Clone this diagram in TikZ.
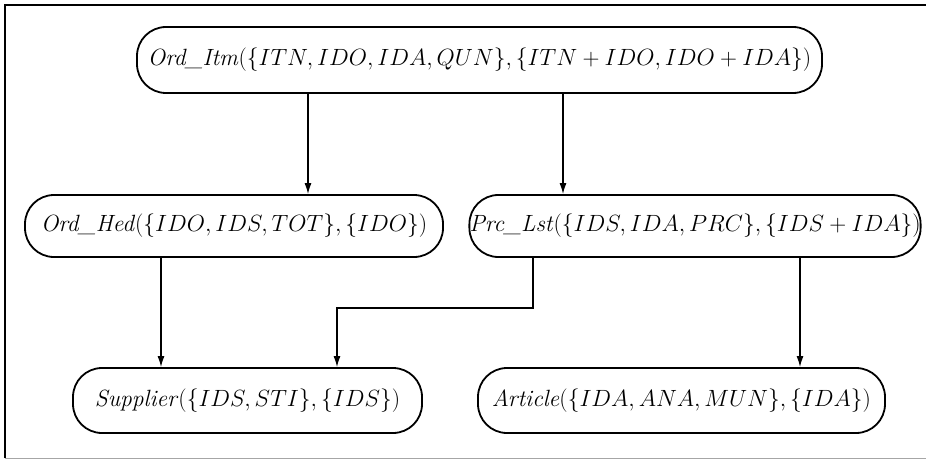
\RequirePackage{fix-cm}
\documentclass[tikz,border=0pt]{standalone}
\usepackage{fontspec}
\usetikzlibrary{arrows.meta}
\tikzset{
  rel/.style={draw=black, line width=1.8pt, rounded corners=29pt, inner sep=0pt,
    font=\fontsize{23.5}{28}\selectfont},
  arr/.style={line width=1.4pt, -{Latex[length=11pt,width=7pt]}},
  frame/.style={line width=1.6pt}
}
\begin{document}
\begin{tikzpicture}[x=1pt,y=-1pt]
\useasboundingbox (0,0) rectangle (926,460);
% frame
\draw[frame] (5,458) -- (5,5) -- (926,5);
\draw[line width=1pt, black!35] (5,458) -- (926,458);
% nodes
\node[rel, minimum width=685pt, minimum height=66pt] (oi) at (479.5,60)
  {\textit{Ord\_Itm}$(\{ITN,IDO,IDA,QUN\},\{ITN+IDO,IDO+IDA\})$};
\node[rel, minimum width=418pt, minimum height=62pt] (oh) at (234,226)
  {\textit{Ord\_Hed}$(\{IDO,IDS,TOT\},\{IDO\})$};
\node[rel, minimum width=446pt, minimum height=62pt] (pl) at (695,226)
  {\textit{Prc\_Lst}$(\{IDS,IDA,PRC\},\{IDS+IDA\})$};
\node[rel, minimum width=349pt, minimum height=65pt] (su) at (247.5,400.5)
  {\textit{Supplier}$(\{IDS,STI\},\{IDS\})$};
\node[rel, minimum width=407pt, minimum height=65pt] (ar) at (681.5,400.5)
  {\textit{Article}$(\{IDA,ANA,MUN\},\{IDA\})$};
% connector x positions
\coordinate (c1) at (308,0);
\coordinate (c2) at (563,0);
\coordinate (c3) at (161,0);
\coordinate (c4) at (533,308);
\coordinate (c5) at (337,0);
\coordinate (c6) at (800,0);
% connectors
\draw[arr] (c1 |- oi.south) -- (c1 |- oh.north);
\draw[arr] (c2 |- oi.south) -- (c2 |- pl.north);
\draw[arr] (c3 |- oh.south) -- (c3 |- su.north);
\draw[arr] (c4 |- pl.south) -- (c4) -| (c5 |- su.north);
\draw[arr] (c6 |- pl.south) -- (c6 |- ar.north);
\end{tikzpicture}
\end{document}
